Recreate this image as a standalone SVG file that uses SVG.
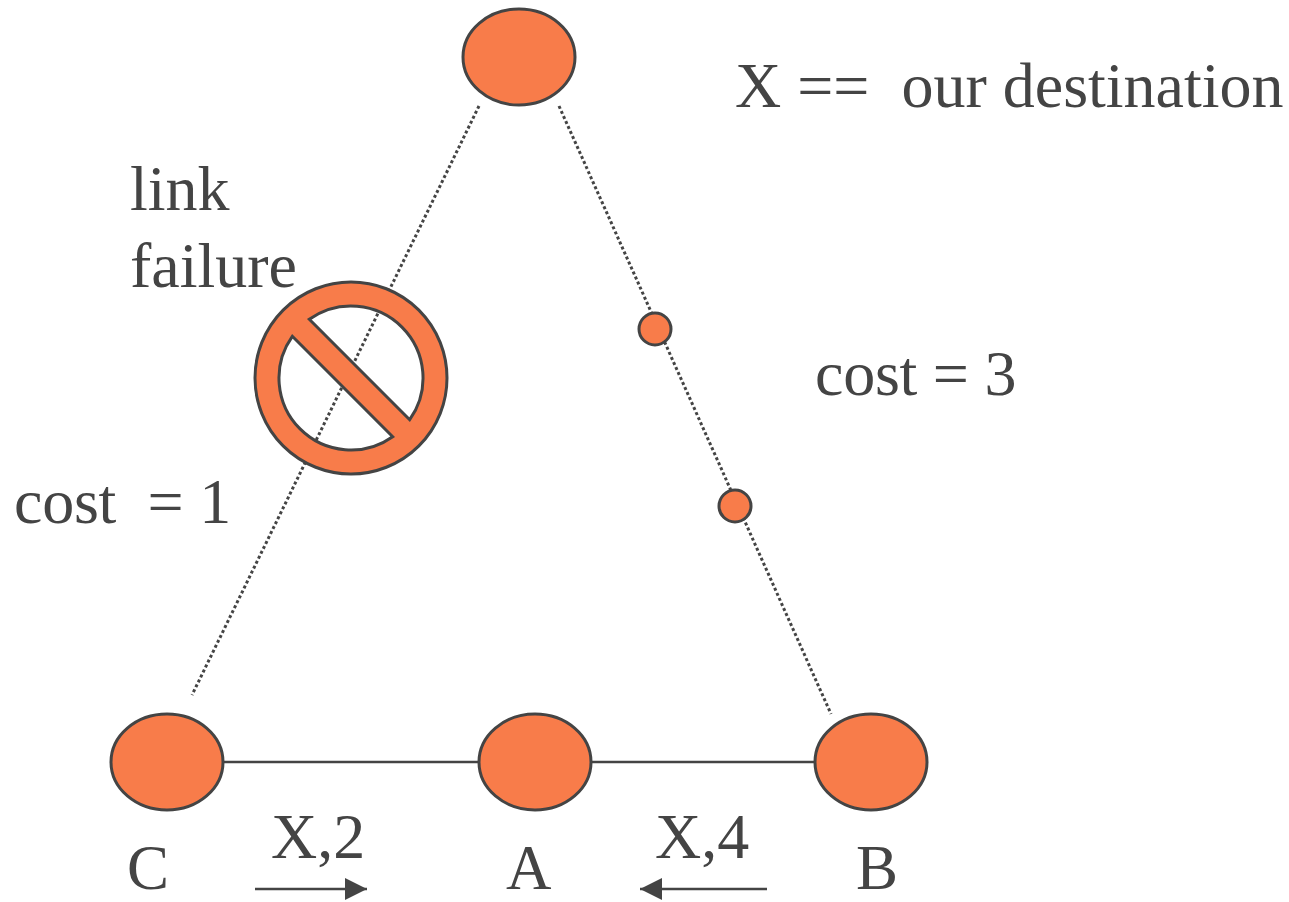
<svg xmlns="http://www.w3.org/2000/svg" width="1289" height="902" viewBox="0 0 1289 902">
<style>
.n{fill:#f87c4a;stroke:#444;stroke-width:3}
.t{font-family:"Liberation Serif",serif;font-size:64px;fill:#444;white-space:pre}
.b{font-size:63px}
.c{letter-spacing:-.25px}
.d{fill:none;stroke:#444;stroke-width:3;stroke-dasharray:3 2.5}
.l{fill:none;stroke:#444;stroke-width:2.5}
</style>
<defs><marker id="a" markerUnits="userSpaceOnUse" markerWidth="22" markerHeight="22" refX="22" refY="11" orient="auto"><path d="M0 0L22 11L0 22Z" fill="#444"/></marker></defs>
<rect width="1289" height="902" fill="#fff"/>
<g id="connectors">
<path class="d" d="M479 106L192 695"/>
<path class="d" d="M559 106L831 714"/>
<path class="l" d="M223 762H479M591 762H815"/>
<path class="l" d="M255 889H367" marker-end="url(#a)"/>
<path class="l" d="M767 889H640" marker-end="url(#a)"/>
</g>
<g id="top"><ellipse class="n" cx="519" cy="57" rx="56" ry="48"/></g>
<g id="C"><ellipse class="n" cx="167" cy="762" rx="56" ry="48"/></g>
<g id="A"><ellipse class="n" cx="535" cy="762" rx="56" ry="48"/></g>
<g id="B"><ellipse class="n" cx="871" cy="762" rx="56" ry="48"/></g>
<g id="m1"><circle class="n" cx="655" cy="329" r="16"/></g>
<g id="m2"><circle class="n" cx="735" cy="506" r="16"/></g>
<g id="no">
<path d="M351 282A96 96 0 1 0 351 474A96 96 0 1 0 351 282ZM309.3 319.3A72 72 0 0 1 409.7 419.7ZM392.7 436.7A72 72 0 0 1 292.3 336.3Z" fill="#f87c4a" stroke="#444" stroke-width="3" fill-rule="evenodd"/>
</g>
<g id="labels">
<text class="t" x="735" y="107">X ==  our destination</text>
<text class="t" x="130" y="210">link</text>
<text class="t" x="130" y="287">failure</text>
<text class="t c" x="815" y="395">cost = 3</text>
<text class="t c" x="14" y="523">cost  = 1</text>
<text class="t" x="271" y="858">X,2</text>
<text class="t" x="655" y="858">X,4</text>
<text class="t b" x="127" y="889">C</text>
<text class="t b" x="506" y="889">A</text>
<text class="t b" x="856" y="889">B</text>
</g>
</svg>
